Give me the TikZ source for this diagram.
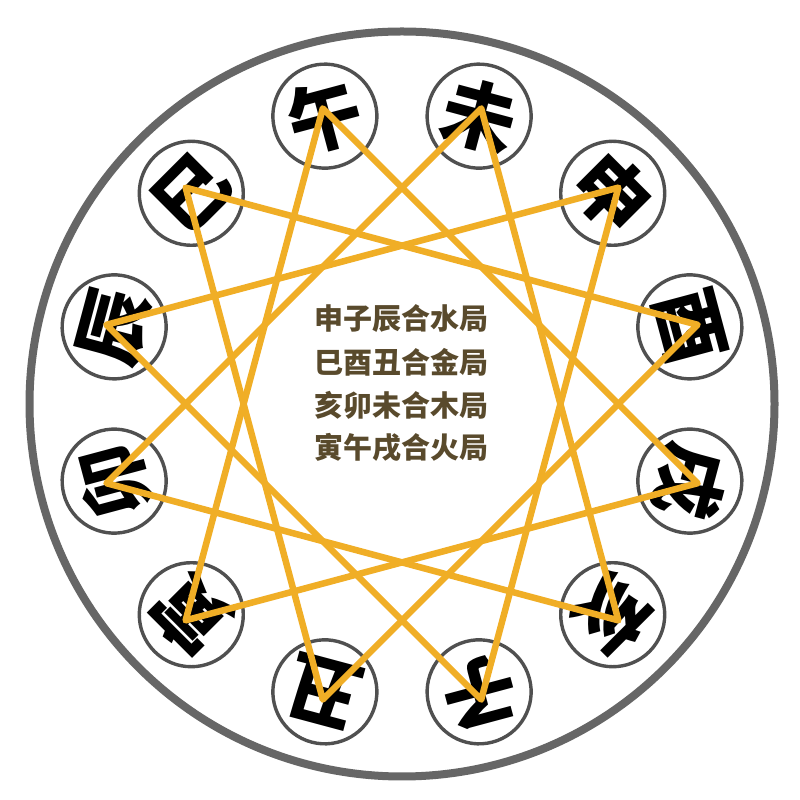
\documentclass[tikz,border=0pt]{standalone}
\usepackage{fontspec}
\newfontfamily\cjk{Noto Sans CJK SC}
\usetikzlibrary{calc}
\definecolor{ringgray}{HTML}{666666}
\definecolor{smallgray}{HTML}{505050}
\definecolor{goldline}{HTML}{F0AE26}
\definecolor{txtbrown}{HTML}{594A2C}
\tikzset{
  branch/.style={circle, draw=smallgray, line width=3.4pt, fill=white,
    minimum size=104pt, inner sep=0pt, text=black,
    font=\cjk\bfseries\fontsize{74}{74}\selectfont},
  starline/.style={draw=goldline, line width=6.5pt, line join=round, line cap=round},
  centertext/.style={text=txtbrown, inner sep=0pt, font=\cjk\bfseries\fontsize{29}{29}\selectfont}
}
\begin{document}
\begin{tikzpicture}[x=1pt,y=1pt]
\useasboundingbox (0,0) rectangle (800,800);
\fill[white] (0,0) rectangle (800,800);
\coordinate (C) at (402,396);
\node[circle, draw=ringgray, line width=8pt, minimum size=745pt, inner sep=0pt] (ring) at (C) {};
% branch circles
\foreach \ang/\ch in {15/酉,45/申,75/未,105/午,135/巳,165/辰,195/卯,225/寅,255/丑,285/子,315/亥,345/戌}{
  \pgfmathsetmacro{\rot}{\ang-90}
  \node[branch, rotate=\rot] (b\ang) at ($(C)+(\ang:298)$) {\ch};
  \coordinate (v\ang) at ($(C)+(\ang:306)$);
}
% san he triangles
\draw[starline] (v45) -- (v285) -- (v165) -- cycle;
\draw[starline] (v135) -- (v15) -- (v255) -- cycle;
\draw[starline] (v315) -- (v195) -- (v75) -- cycle;
\draw[starline] (v225) -- (v105) -- (v345) -- cycle;
% center text
\node[centertext] (t1) at (401,481) {申子辰合水局};
\node[centertext] (t2) at (401,438) {巳酉丑合金局};
\node[centertext] (t3) at (401,395) {亥卯未合木局};
\node[centertext] (t4) at (401,352) {寅午戌合火局};
\end{tikzpicture}
\end{document}
